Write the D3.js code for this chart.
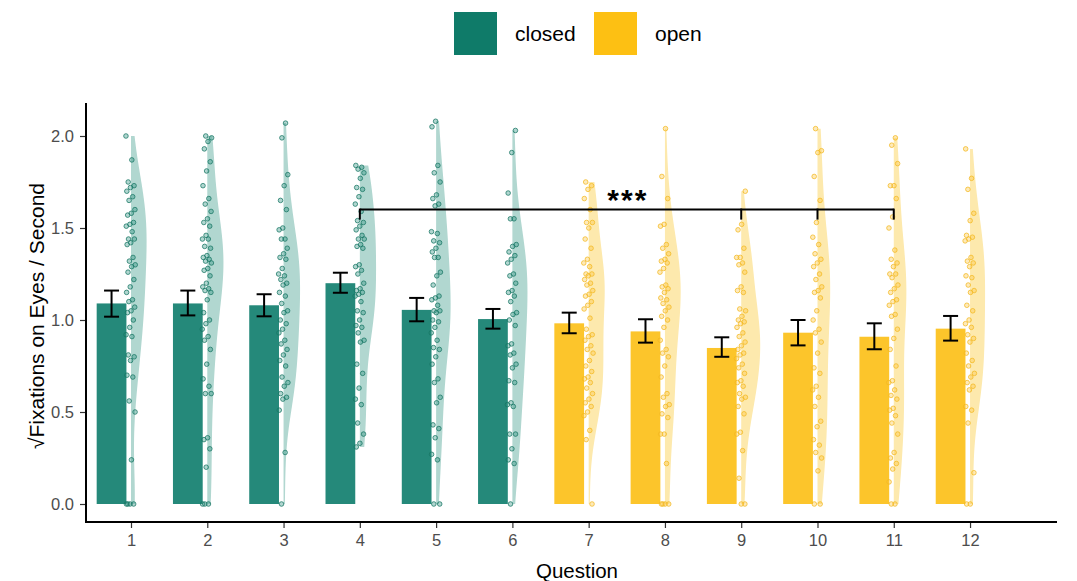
<!DOCTYPE html>
<html><head><meta charset="utf-8">
<script src="https://cdn.jsdelivr.net/npm/d3@7"></script>
<style>body{margin:0;background:#fff;} svg{display:block;font-family:"Liberation Sans",Arial,sans-serif;}</style>
</head><body><svg id="c" width="1077" height="581"></svg>
<script>
const questions = [1,2,3,4,5,6,7,8,9,10,11,12];
const condition = ["closed","closed","closed","closed","closed","closed","open","open","open","open","open","open"];
const barMeans = [1.09,1.09,1.08,1.20,1.055,1.005,0.982,0.938,0.848,0.931,0.909,0.953];
const errLow  = [1.018,1.025,1.02,1.148,0.993,0.953,0.928,0.877,0.80,0.862,0.841,0.888];
const errHigh = [1.16,1.16,1.14,1.257,1.12,1.06,1.04,1.004,0.906,1.0,0.982,1.022];
const yTicks = [0,0.5,1.0,1.5,2.0];
const sigBracket = {from:4, to:11, drops:[4,9,10,11], y:1.60, label:"***"};

const pts1 = [2.0,1.87,1.75,1.73,1.72,1.70,1.67,1.65,1.60,1.58,1.57,1.53,1.52,1.51,1.48,1.44,1.44,1.42,1.41,1.34,1.32,1.30,1.29,1.26,1.22,1.18,1.15,1.11,1.10,1.07,1.05,1.04,1.0,0.96,0.92,0.91,0.81,0.80,0.78,0.70,0.69,0.56,0.50,0.24,0,0,0,0];
const pts2 = [2.0,1.99,1.97,1.93,1.86,1.81,1.73,1.66,1.63,1.59,1.55,1.53,1.51,1.46,1.44,1.44,1.40,1.39,1.35,1.34,1.33,1.32,1.31,1.28,1.27,1.24,1.20,1.18,1.17,1.16,1.15,1.11,1.04,1.0,0.98,0.95,0.91,0.89,0.84,0.76,0.68,0.64,0.60,0.60,0.36,0.35,0.30,0.20,0,0,0];
const pts3 = [2.07,1.99,1.79,1.73,1.65,1.60,1.50,1.49,1.44,1.44,1.39,1.36,1.34,1.33,1.28,1.25,1.24,1.22,1.20,1.19,1.15,1.13,1.09,1.05,1.04,1.0,0.98,0.95,0.93,0.89,0.87,0.84,0.81,0.78,0.75,0.69,0.66,0.64,0.60,0.58,0.57,0.51,0.28,0];
const pts4 = [1.84,1.83,1.82,1.80,1.77,1.72,1.71,1.67,1.63,1.59,1.54,1.53,1.51,1.49,1.46,1.44,1.44,1.41,1.40,1.39,1.30,1.29,1.27,1.25,1.20,1.17,1.16,1.15,1.14,1.13,1.10,1.05,1.04,1.0,0.97,0.96,0.93,0.89,0.88,0.76,0.71,0.63,0.57,0.54,0.44,0.38,0.33,0.31];
const pts5 = [2.08,2.05,1.84,1.80,1.75,1.68,1.66,1.63,1.62,1.48,1.47,1.43,1.42,1.39,1.37,1.34,1.34,1.26,1.24,1.19,1.13,1.12,1.11,1.08,1.05,1.05,1.04,1.0,0.99,0.96,0.93,0.89,0.85,0.84,0.80,0.76,0.68,0.66,0.58,0.55,0.43,0.41,0.36,0.27,0.24,0,0];
const pts6 = [2.03,1.91,1.69,1.55,1.55,1.41,1.40,1.37,1.35,1.33,1.31,1.25,1.24,1.20,1.16,1.15,1.13,1.10,1.04,1.03,1.0,0.97,0.87,0.86,0.82,0.81,0.76,0.74,0.67,0.66,0.55,0.54,0.53,0.38,0.38,0.30,0.24,0.22,0];
const pts7 = [1.75,1.73,1.71,1.66,1.60,1.53,1.53,1.50,1.44,1.39,1.33,1.31,1.29,1.25,1.25,1.24,1.22,1.20,1.19,1.16,1.14,1.13,1.10,1.08,1.06,1.01,0.95,0.92,0.91,0.89,0.86,0.84,0.82,0.78,0.75,0.72,0.69,0.68,0.66,0.63,0.60,0.57,0.55,0.53,0.50,0.48,0.40,0.35,0];
const pts8 = [2.04,1.78,1.66,1.52,1.51,1.41,1.39,1.36,1.33,1.32,1.31,1.28,1.26,1.19,1.18,1.17,1.15,1.12,1.11,1.09,1.07,1.05,1.02,1.0,0.96,0.89,0.84,0.82,0.80,0.75,0.69,0.60,0.58,0.54,0.53,0.49,0.47,0.38,0.38,0.22,0,0,0,0];
const pts9 = [1.70,1.52,1.49,1.39,1.34,1.34,1.31,1.30,1.26,1.18,1.16,1.15,1.06,1.05,1.02,1.0,0.99,0.98,0.96,0.93,0.91,0.88,0.86,0.84,0.82,0.81,0.79,0.76,0.74,0.71,0.67,0.66,0.64,0.60,0.58,0.57,0.53,0.49,0.39,0.38,0.29,0.14,0,0];
const pts10 = [2.04,1.92,1.91,1.78,1.65,1.53,1.45,1.41,1.36,1.33,1.31,1.29,1.25,1.22,1.18,1.16,1.15,1.12,1.05,1.0,0.95,0.93,0.88,0.82,0.74,0.71,0.64,0.62,0.58,0.53,0.45,0.42,0.35,0.32,0.28,0.25,0.18,0,0];
const pts11 = [1.99,1.95,1.85,1.73,1.73,1.66,1.56,1.50,1.38,1.33,1.31,1.29,1.25,1.25,1.23,1.19,1.17,1.15,1.11,1.10,1.08,1.03,1.02,0.95,0.90,0.84,0.75,0.67,0.66,0.62,0.59,0.57,0.52,0.51,0.48,0.44,0.38,0.28,0.25,0.22,0.19,0.12,0,0];
const pts12 = [1.93,1.77,1.71,1.58,1.54,1.46,1.45,1.44,1.43,1.34,1.32,1.31,1.29,1.24,1.23,1.19,1.16,1.15,1.08,1.05,1.0,0.98,0.96,0.92,0.90,0.88,0.82,0.78,0.75,0.71,0.69,0.66,0.64,0.62,0.53,0.51,0.44,0.17,0,0];
const points = [pts1,pts2,pts3,pts4,pts5,pts6,pts7,pts8,pts9,pts10,pts11,pts12];

const colors = {
  closed:{legend:"#0f7b69", bar:"#25897a", violin:"#b1d7d0", point:"#1f8a78", stroke:"#177563"},
  open:{legend:"#fdc013", bar:"#fcc52b", violin:"#fde9ad", point:"#fcc43a", stroke:"#f3b820"}
};
const FONT = "Liberation Sans, Arial, sans-serif";

const svg = d3.select("#c");
const x = d3.scaleLinear().domain([0.41, 13.14]).range([86, 1057]);
const y = d3.scaleLinear().domain([0, 2]).range([504, 136]);
const yAxisTop = y(2.18), xAxisY = 522;

function bwNrd0(v){
  const s = d3.deviation(v);
  const sorted = v.slice().sort(d3.ascending);
  const iqr = d3.quantile(sorted,0.75)-d3.quantile(sorted,0.25);
  let lo = Math.min(s, iqr/1.34);
  if(!(lo>0)) lo = s || 1;
  return 0.9*lo*Math.pow(v.length,-0.2);
}
function kde(v){
  const bw = bwNrd0(v);
  const mn = d3.min(v), mx = d3.max(v);
  const n = 200, out=[];
  for(let i=0;i<=n;i++){
    const t = mn + (mx-mn)*i/n;
    let s=0;
    for(const d of v){const z=(t-d)/bw; s+=Math.exp(-0.5*z*z);}
    out.push([t, s/(v.length*bw*Math.sqrt(2*Math.PI))]);
  }
  return out;
}
const dens = points.map(kde);
const maxD = d3.max(dens, d=>d3.max(d, e=>e[1]));
const wScale = d3.scaleLinear().domain([0,maxD]).range([0,19/76.27]);

const plot = svg.append("g");

dens.forEach((d,i)=>{
  const q = questions[i], c = colors[condition[i]];
  const area = d3.area()
    .y(e=>y(e[0]))
    .x0(()=>x(q))
    .x1(e=>x(q + wScale(e[1])))
    .curve(d3.curveBasis);
  plot.append("path").attr("d", area(d)).attr("fill", c.violin).attr("stroke","none");
});

plot.selectAll("rect.bar").data(questions).enter().append("rect")
  .attr("x", q=>x(q-0.45)).attr("width", x(0.39)-x(0))
  .attr("y", (q,i)=>y(barMeans[i])).attr("height",(q,i)=>y(0)-y(barMeans[i]))
  .attr("fill",(q,i)=>colors[condition[i]].bar);

points.forEach((arr,i)=>{
  const q = questions[i], c = colors[condition[i]];
  plot.append("g").selectAll("circle").data(arr).enter().append("circle")
    .attr("cx",(v,j)=>x(q) - 0.3 + (((j*0.618034 + i*0.37)%1) - 0.5)*9.5)
    .attr("cy",v=>y(v)).attr("r",2.3)
    .attr("fill",c.point).attr("fill-opacity",0.35)
    .attr("stroke",c.stroke).attr("stroke-opacity",0.75).attr("stroke-width",1);
});

questions.forEach((q,i)=>{
  const cx = x(q-0.255), hw = 7.5;
  const g = plot.append("g").attr("stroke","#000").attr("stroke-width",2).attr("fill","none");
  g.append("line").attr("x1",cx).attr("x2",cx).attr("y1",y(errLow[i])).attr("y2",y(errHigh[i]));
  g.append("line").attr("x1",cx-hw).attr("x2",cx+hw).attr("y1",y(errLow[i])).attr("y2",y(errLow[i]));
  g.append("line").attr("x1",cx-hw).attr("x2",cx+hw).attr("y1",y(errHigh[i])).attr("y2",y(errHigh[i]));
});

const sg = plot.append("g").attr("stroke","#000").attr("stroke-width",2).attr("fill","none");
sg.append("line").attr("x1",x(sigBracket.from)).attr("x2",x(sigBracket.to))
  .attr("y1",y(sigBracket.y)).attr("y2",y(sigBracket.y));
sigBracket.drops.forEach(q=>{
  sg.append("line").attr("x1",x(q)).attr("x2",x(q)).attr("y1",y(sigBracket.y)-1).attr("y2",y(sigBracket.y)+10);
});
plot.append("text").attr("x",(x(sigBracket.from)+x(sigBracket.to))/2 + 1).attr("y",y(sigBracket.y)+0.5)
  .attr("text-anchor","middle").attr("font-size",30).attr("font-weight","bold")
  .attr("letter-spacing",2).attr("fill","#000").text(sigBracket.label);

const yAxis = svg.append("g").attr("transform","translate(86,0)")
  .call(d3.axisLeft(y).tickValues(yTicks).tickFormat(d3.format(".1f")).tickSize(6).tickPadding(6));
yAxis.select(".domain").remove();
yAxis.selectAll(".tick line").attr("stroke","#333").attr("stroke-width",1.2);
yAxis.selectAll("text").attr("font-size",16.5).attr("fill","#4d4d4d").attr("font-family",FONT);

const xAxis = svg.append("g").attr("transform",`translate(0,${xAxisY})`)
  .call(d3.axisBottom(x).tickValues(questions).tickFormat(d3.format("d")).tickSize(6).tickPadding(6));
xAxis.select(".domain").remove();
xAxis.selectAll(".tick line").attr("stroke","#333").attr("stroke-width",1.2);
xAxis.selectAll("text").attr("font-size",16.5).attr("fill","#4d4d4d").attr("font-family",FONT);

svg.append("path").attr("d",`M86,${yAxisTop}V${xAxisY}H1057`).attr("stroke","#000").attr("stroke-width",2).attr("fill","none");

svg.append("text").attr("x",577).attr("y",578).attr("text-anchor","middle")
  .attr("font-size",20.5).attr("fill","#000").text("Question");
svg.append("text").attr("transform","translate(44,316) rotate(-90)").attr("text-anchor","middle")
  .attr("font-size",21).attr("fill","#000").text("√Fixations on Eyes / Second");

const legend = [{k:"closed", x:454},{k:"open", x:594}];
legend.forEach(l=>{
  svg.append("rect").attr("x",l.x).attr("y",12).attr("width",43).attr("height",43).attr("fill",colors[l.k].legend);
  svg.append("text").attr("x",l.x+61).attr("y",41).attr("font-size",21).attr("fill","#000").text(l.k);
});
</script></body></html>
